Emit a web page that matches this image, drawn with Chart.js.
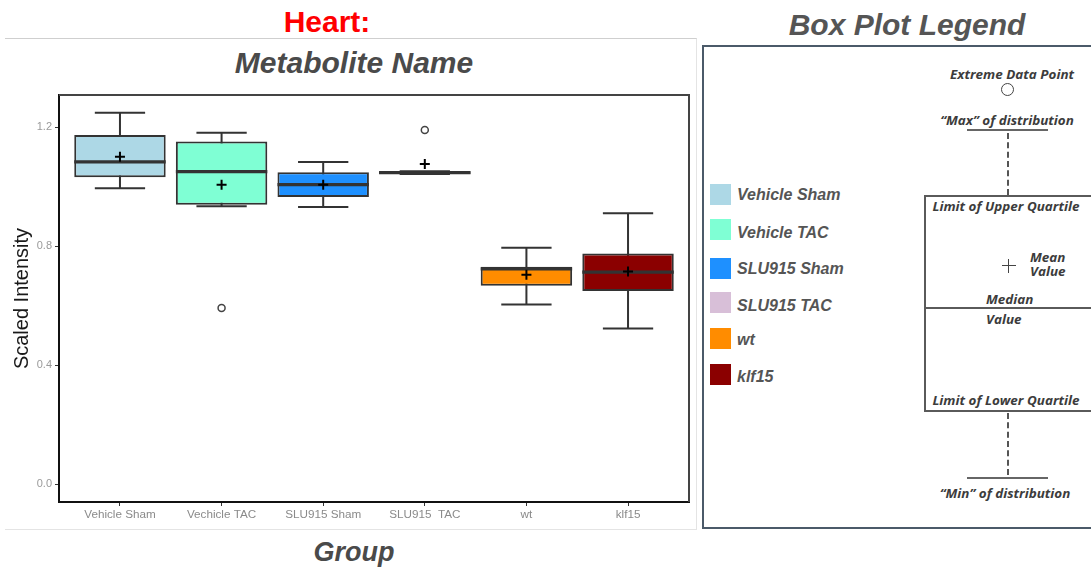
<!DOCTYPE html>
<html>
<head>
<meta charset="utf-8">
<script src="https://cdn.jsdelivr.net/npm/chart.js@4.4.1/dist/chart.umd.min.js"></script>
<style>
  html, body { margin: 0; padding: 0; background: #fff; }
  body { position: relative; width: 1091px; height: 567px; overflow: hidden;
         font-family: "Liberation Sans", Arial, sans-serif; }
  .abs { position: absolute; }
  .title { position: absolute; line-height: 1; white-space: nowrap; font-weight: 700;
           transform: translate(-50%, -50%); }
  #heart { left: 327px; top: 22px; font-size: 30px; color: #ff0000; }
  #metab { left: 354px; top: 63px; font-size: 30px; font-style: italic; color: #4a4a4a; }
  #group { left: 354px; top: 552px; font-size: 27px; font-style: italic; color: #4a4a4a; }
  #bpl   { left: 907px; top: 25px; font-size: 30px; font-style: italic; color: #555; }
  #frame { position: absolute; left: 5px; top: 38px; width: 691px; height: 490px;
           border-top: 1px solid #cfcfcf; border-right: 1px solid #e4e4e4; border-bottom: 1px solid #e4e4e4; }
  #chartWrap { position: absolute; left: 0; top: 0; width: 700px; height: 567px; }
  #legendBox { position: absolute; left: 702px; top: 45px; width: 420px; height: 480px;
               border: 2px solid #4b5a69; }
  .sw { position: absolute; left: 710px; width: 21px; height: 21px; }
  .lt { position: absolute; left: 737px; font-size: 16px; line-height: 1; font-weight: 700;
        font-style: italic; color: #555; white-space: nowrap; transform: translateY(-50%); }
  .d { position: absolute; font-family: "Open Sans", sans-serif; font-weight: 700; font-style: italic;
       font-size: 11.8px; line-height: 1; color: #3c3c3c; white-space: nowrap; }
  .dc { transform: translate(-50%, -50%) scaleX(1.14); }
  .dl { transform-origin: left center; transform: translateY(-50%) scaleX(1.14); }
  .hl { position: absolute; height: 0; border-top: 2px solid #666; }
  .vd { position: absolute; width: 0; border-left: 2px dashed #555; }
</style>
</head>
<body>
<div id="frame"></div>
<div id="heart" class="title">Heart:</div>
<div id="metab" class="title">Metabolite Name</div>
<div id="group" class="title">Group</div>
<div id="chartWrap"><canvas id="c" width="700" height="567"></canvas></div>

<div id="bpl" class="title">Box Plot Legend</div>
<div id="legendBox"></div>
<div id="legendItems"></div>

<!-- box plot key diagram -->
<div class="d dc" style="left:1012px; top:75px;">Extreme Data Point</div>
<div class="abs" style="left:1001px; top:83px; width:11px; height:11px; border:1.5px solid #444; border-radius:50%;"></div>
<div class="d dc" style="left:1007px; top:121px;">“Max” of distribution</div>
<div class="hl" style="left:967px; top:129px; width:81px;"></div>
<div class="vd" style="left:1007px; top:133px; height:62px;"></div>
<div class="abs" style="left:924px; top:195px; width:200px; height:213px; border:2px solid #5a5a5a;"></div>
<div class="d dc" style="left:1006px; top:207px;">Limit of Upper Quartile</div>
<div class="abs" style="left:1002px; top:265px; width:14px; height:0; border-top:1.5px solid #444;"></div>
<div class="abs" style="left:1008px; top:259px; width:0; height:14px; border-left:1.5px solid #444;"></div>
<div class="d dl" style="left:1030px; top:258px;">Mean</div>
<div class="d dl" style="left:1030px; top:272px;">Value</div>
<div class="d dl" style="left:986px; top:300px;">Median</div>
<div class="abs" style="left:925px; top:307px; width:200px; height:0; border-top:2px solid #5a5a5a;"></div>
<div class="d dl" style="left:986px; top:320px;">Value</div>
<div class="d dc" style="left:1006px; top:401px;">Limit of Lower Quartile</div>
<div class="vd" style="left:1007px; top:413px; height:62px;"></div>
<div class="hl" style="left:967px; top:477px; width:81px;"></div>
<div class="d dc" style="left:1005px; top:494px;">“Min” of distribution</div>

<script>
// Group labels on the x axis and in the legend
const groups = ['Vehicle Sham', 'Vechicle TAC', 'SLU915 Sham', 'SLU915  TAC', 'wt', 'klf15'];
const legendNames = ['Vehicle Sham', 'Vehicle TAC', 'SLU915 Sham', 'SLU915 TAC', 'wt', 'klf15'];
const boxColors = ['#ADD8E6', '#7FFFD4', '#1E90FF', '#D8BFD8', '#FF8C00', '#8B0000'];

// Five-number summaries per group (scaled intensity)
const whiskerLow  = [0.994, 0.934, 0.931, 1.042, 0.603, 0.523];
const q1          = [1.031, 0.939, 0.965, 1.042, 0.666, 0.649];
const median      = [1.083, 1.050, 1.006, 1.047, 0.723, 0.712];
const q3          = [1.173, 1.151, 1.048, 1.051, 0.730, 0.775];
const whiskerHigh = [1.248, 1.181, 1.082, 1.051, 0.794, 0.910];
const means       = [1.100, 1.006, 1.006, 1.076, 0.703, 0.714];

// Extreme points: group index and value
const outlierGroup = [1, 3];
const outlierValue = [0.592, 1.190];

const yTicks = [0, 0.4, 0.8, 1.2];

// Legend rows (swatch top, text centre)
const swatchTop = [184, 219, 258, 292, 328, 364];
const textMid   = [195, 233, 269, 306, 340, 377];
const li = document.getElementById('legendItems');
legendNames.forEach((name, i) => {
  const s = document.createElement('div');
  s.className = 'sw';
  s.style.top = swatchTop[i] + 'px';
  s.style.background = boxColors[i];
  li.appendChild(s);
  const t = document.createElement('div');
  t.className = 'lt';
  t.style.top = textMid[i] + 'px';
  t.textContent = name;
  li.appendChild(t);
});

// Whiskers behind the boxes, medians on top of them, plus the panel's top/right edge
const boxPlotParts = {
  id: 'boxPlotParts',
  beforeDatasetsDraw(chart) {
    const { ctx, chartArea: a, scales: { y } } = chart;
    ctx.save();
    ctx.strokeStyle = '#444';
    ctx.lineWidth = 2;
    ctx.beginPath();
    ctx.moveTo(a.left, a.top);
    ctx.lineTo(a.right, a.top);
    ctx.lineTo(a.right, a.bottom);
    ctx.stroke();

    const meta = chart.getDatasetMeta(0);
    ctx.strokeStyle = '#333';
    ctx.lineWidth = 2;
    meta.data.forEach((bar, i) => {
      const cx = bar.x;
      const capHalf = bar.width * 0.275;
      const yLo = y.getPixelForValue(whiskerLow[i]);
      const yHi = y.getPixelForValue(whiskerHigh[i]);
      ctx.beginPath();
      ctx.moveTo(cx, yLo); ctx.lineTo(cx, yHi);
      ctx.moveTo(cx - capHalf, yLo); ctx.lineTo(cx + capHalf, yLo);
      ctx.moveTo(cx - capHalf, yHi); ctx.lineTo(cx + capHalf, yHi);
      ctx.stroke();
    });
    ctx.restore();
  },
  afterDatasetDraw(chart, args) {
    if (args.index !== 0) return;
    const { ctx, scales: { y } } = chart;
    const meta = chart.getDatasetMeta(0);
    ctx.save();
    ctx.strokeStyle = '#333';
    ctx.lineWidth = 3.2;
    meta.data.forEach((bar, i) => {
      const ym = y.getPixelForValue(median[i]);
      ctx.beginPath();
      ctx.moveTo(bar.x - bar.width / 2, ym);
      ctx.lineTo(bar.x + bar.width / 2, ym);
      ctx.stroke();
    });
    ctx.restore();
  }
};

new Chart(document.getElementById('c'), {
  type: 'bar',
  data: {
    datasets: [
      {
        type: 'bar',
        label: 'IQR',
        data: groups.map((g, i) => ({ x: i, y: [q1[i], q3[i]] })),
        backgroundColor: boxColors,
        borderColor: '#333',
        borderWidth: 2,
        borderSkipped: false,
        categoryPercentage: 1,
        barPercentage: 0.9,
        order: 3
      },
      {
        type: 'scatter',
        label: 'Extreme',
        data: outlierGroup.map((g, k) => ({ x: g, y: outlierValue[k] })),
        pointStyle: 'circle',
        pointRadius: 3.5,
        borderWidth: 1.5,
        borderColor: '#444',
        backgroundColor: '#fff',
        order: 2
      },
      {
        type: 'scatter',
        label: 'Mean',
        data: means.map((m, i) => ({ x: i, y: m })),
        pointStyle: 'cross',
        pointRadius: 5,
        borderWidth: 2,
        borderColor: '#000',
        order: 1
      }
    ]
  },
  options: {
    responsive: false,
    animation: false,
    layout: { padding: { top: 95, right: 11, bottom: 0, left: 0 } },
    plugins: { legend: { display: false }, tooltip: { enabled: false } },
    scales: {
      x: {
        type: 'linear',
        min: -0.6,
        max: 5.6,
        offset: false,
        afterBuildTicks: s => { s.ticks = groups.map((g, i) => ({ value: i })); },
        afterFit: s => { s.height = 65; },
        ticks: {
          callback: v => groups[v],
          color: '#8a8a8a',
          font: { family: '"Liberation Sans", Arial, sans-serif', size: 11.7 },
          padding: 2,
          autoSkip: false,
          maxRotation: 0
        },
        grid: { offset: false, drawOnChartArea: false, drawTicks: true, tickLength: 4, color: '#333' },
        border: { display: true, color: '#111', width: 2 }
      },
      y: {
        min: -0.0605,
        max: 1.3076,
        afterBuildTicks: s => { s.ticks = yTicks.map(v => ({ value: v })); },
        afterFit: s => { s.width = 59; },
        ticks: {
          callback: v => Number(v).toFixed(1),
          color: '#9a9a9a',
          font: { family: '"Liberation Sans", Arial, sans-serif', size: 11 },
          padding: 3
        },
        grid: { drawOnChartArea: false, drawTicks: true, tickLength: 4, color: '#333' },
        border: { display: true, color: '#111', width: 2 },
        title: {
          display: true,
          text: 'Scaled Intensity',
          color: '#1a1a1a',
          font: { family: '"Liberation Sans", Arial, sans-serif', size: 20 },
          padding: { top: 10, bottom: 0 }
        }
      }
    }
  },
  plugins: [boxPlotParts]
});
</script>
</body>
</html>
